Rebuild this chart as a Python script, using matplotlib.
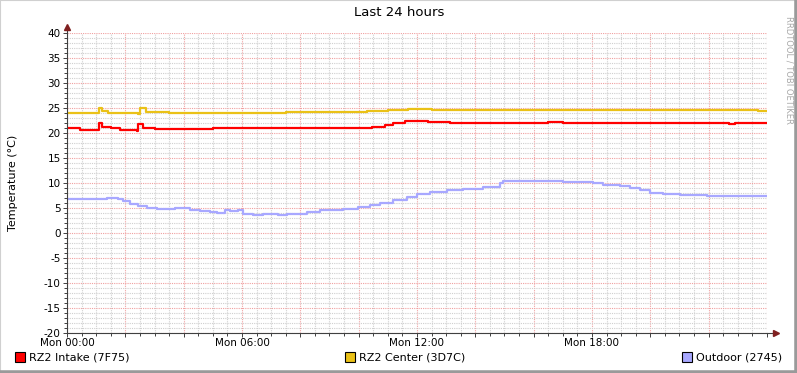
import matplotlib
matplotlib.use('Agg')
import matplotlib.pyplot as plt
from matplotlib.ticker import MultipleLocator
from matplotlib.patches import Rectangle

# hours since Mon 00:00 and temperature readings (deg C)
intake_h = [0, 0.45, 1.1, 1.2, 1.5, 1.8, 2.4, 2.45, 2.6, 3.0, 5.0, 7.0, 10.46, 10.9,
            11.18, 11.6, 12.38, 13.13, 16.5, 17.0, 22.7, 22.9, 24]
intake_t = [21.0, 20.7, 22.1, 21.2, 21.0, 20.7, 20.5, 21.8, 21.0, 20.9, 21.0, 21.1, 21.3, 21.7,
            22.1, 22.4, 22.2, 22.0, 22.2, 22.0, 21.9, 22.0, 22.0]

center_h = [0, 1.1, 1.2, 1.4, 2.45, 2.5, 2.7, 3.5, 5.5, 7.5, 9.5, 10.3, 11.0, 11.7,
            12.5, 14, 16, 18, 20, 22, 23.7, 24]
center_t = [24.0, 25.1, 24.4, 24.1, 23.9, 25.0, 24.3, 24.1, 24.1, 24.2, 24.2, 24.4, 24.6, 24.9,
            24.7, 24.6, 24.7, 24.7, 24.7, 24.6, 24.5, 24.5]

outdoor_h = [0, 1.37, 1.75, 1.92, 2.16, 2.43, 2.74, 3.09, 3.43, 3.70, 4.05, 4.22, 4.56, 4.90,
             5.14, 5.42, 5.59, 5.86, 6.03, 6.38, 6.72, 7.06, 7.23, 7.54, 7.99, 8.23, 8.67,
             9.46, 9.98, 10.39, 10.73, 11.18, 11.66, 12.0, 12.45, 13.03, 13.58, 14.26, 14.85,
             14.95, 15.63, 17.0, 18.03, 18.38, 18.96, 19.3, 19.65, 19.99, 20.43, 21.02, 21.94,
             23.18, 24]
outdoor_t = [6.9, 7.07, 6.8, 6.4, 5.9, 5.4, 5.1, 4.9, 4.75, 4.95, 5.05, 4.7, 4.4, 4.3,
             4.0, 4.7, 4.4, 4.6, 3.9, 3.6, 3.8, 3.9, 3.6, 3.8, 3.9, 4.3, 4.7,
             4.9, 5.2, 5.7, 6.1, 6.6, 7.2, 7.8, 8.3, 8.6, 8.9, 9.3, 10.0,
             10.4, 10.5, 10.2, 10.0, 9.6, 9.4, 9.1, 8.6, 8.1, 7.9, 7.7, 7.5,
             7.4, 7.45]

tick_hours = [0, 6, 12, 18]
tick_labels = ['Mon 00:00', 'Mon 06:00', 'Mon 12:00', 'Mon 18:00']
series = [('RZ2 Intake (7F75)', '#FF0000'),
          ('RZ2 Center (3D7C)', '#EAC117'),
          ('Outdoor (2745)', '#A8A8FF')]

W, H = 797, 373
fig = plt.figure(figsize=(W / 100, H / 100), dpi=100, facecolor='white')
ax = fig.add_axes([67 / W, (H - 333) / H, 700 / W, 300 / H])
ax.set_xlim(0, 24)
ax.set_ylim(-20, 40)

# grid, rrdtool style
ax.xaxis.set_major_locator(MultipleLocator(2))
ax.xaxis.set_minor_locator(MultipleLocator(0.5))
ax.yaxis.set_major_locator(MultipleLocator(5))
ax.yaxis.set_minor_locator(MultipleLocator(1))
ax.grid(which='minor', color='#cfcfcf', linestyle=(0, (1, 1)), linewidth=0.8)
ax.grid(which='major', color='#f0a0a0', linestyle=(0, (1, 1)), linewidth=0.8)
ax.set_axisbelow(True)

for sp in ['top', 'right']:
    ax.spines[sp].set_visible(False)
for sp in ['left', 'bottom']:
    ax.spines[sp].set_color('#404040')
    ax.spines[sp].set_linewidth(0.8)

ax.tick_params(which='both', direction='out', color='#404040', width=0.7, labelsize=7.5,
               labelcolor='black', pad=1.5)
ax.tick_params(which='major', length=3)
ax.tick_params(which='minor', length=2)
ax.set_yticks(range(-20, 41, 5))
ax.set_yticklabels([str(v) for v in range(-20, 41, 5)])

ax.plot(intake_h, intake_t, color=series[0][1], lw=1.6, drawstyle='steps-post')
ax.plot(center_h, center_t, color=series[1][1], lw=1.6, drawstyle='steps-post')
ax.plot(outdoor_h, outdoor_t, color=series[2][1], lw=1.6, drawstyle='steps-post')

# time labels under the axis
ax.set_xticklabels([])
for h, lab in zip(tick_hours, tick_labels):
    ax.text(h, -20.9, lab, ha='center', va='top', fontsize=7.5, clip_on=False)

# arrows at axis ends
ax.plot([24, 24.3], [-20, -20], color='#404040', lw=0.8, clip_on=False)
ax.plot([24.3], [-20], marker='>', color='#802020', markersize=4, clip_on=False)
ax.plot([0, 0], [40, 41.2], color='#404040', lw=0.8, clip_on=False)
ax.plot([0], [41.2], marker='^', color='#802020', markersize=4, clip_on=False)

ax.set_ylabel('Temperature (°C)', fontsize=8)
ax.yaxis.set_label_coords(-0.07, 0.5)

fig.text(399 / W, 1 - 13 / H, 'Last 24 hours', ha='center', va='center', fontsize=9.5)
fig.text(789 / W, 1 - 70 / H, 'RRDTOOL / TOBI OETIKER', rotation=270, ha='center',
         va='center', fontsize=6, color='#a8a8a8')

# legend boxes
leg_x = [15, 345, 682]
for (lab, col), x0 in zip(series, leg_x):
    fig.patches.append(Rectangle((x0 / W, 1 - 362 / H), 10 / W, 10 / H, transform=fig.transFigure,
                                 facecolor=col, edgecolor='black', linewidth=0.8))
    fig.text((x0 + 14) / W, 1 - 357.5 / H, lab, ha='left', va='center', fontsize=8)

# image frame: light top/left, darker bottom/right
fig.add_artist(plt.Line2D([0, 0, 1], [0, 1, 1], transform=fig.transFigure,
                          color='#d0d0d0', lw=1.5))
fig.add_artist(plt.Line2D([0, 1, 1], [0, 0, 1], transform=fig.transFigure,
                          color='#9a9a9a', lw=4))

fig.savefig('out.png', dpi=100, facecolor='white')
